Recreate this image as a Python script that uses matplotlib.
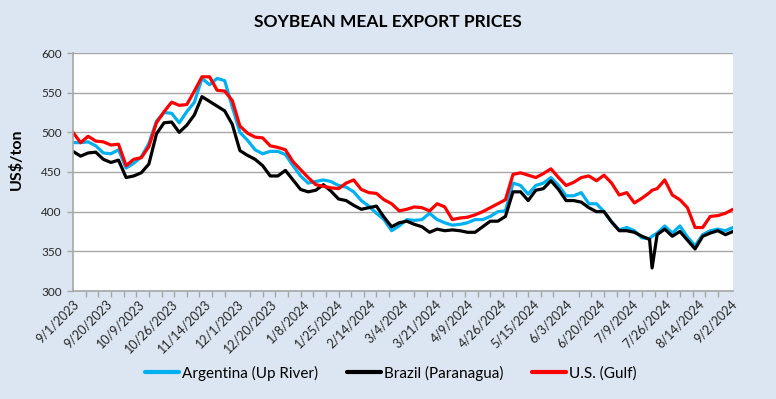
import matplotlib
matplotlib.use("Agg")
import matplotlib.pyplot as plt

# ---- data (trading-day index, values in US$/ton) ----
n_days = 262
tick_labels = ["9/1/2023", "9/20/2023", "10/9/2023", "10/26/2023", "11/14/2023",
               "12/1/2023", "12/20/2023", "1/8/2024", "1/25/2024", "2/14/2024",
               "3/4/2024", "3/21/2024", "4/9/2024", "4/26/2024", "5/15/2024",
               "6/3/2024", "6/20/2024", "7/9/2024", "7/26/2024", "8/14/2024",
               "9/2/2024"]
sample_days = [0, 3, 6, 9, 12, 15, 18, 21, 24, 27, 30, 33, 36, 39, 42, 45, 48, 51,
               54, 57, 60, 63, 66, 69, 72, 75, 78, 81, 84, 87, 90, 93, 96, 99, 102,
               105, 108, 111, 114, 117, 120, 123, 126, 129, 132, 135, 138, 141, 144,
               147, 150, 153, 156, 159, 162, 165, 168, 171, 174, 177, 180, 183, 186,
               189, 192, 195, 198, 201, 204, 207, 210, 213, 216, 219, 222, 225, 228,
               229, 231, 234, 237, 240, 243, 246, 249, 252, 255, 258, 261]
argentina = [487, 487, 488, 483, 474, 473, 478, 455, 461, 469, 486, 514, 525, 524,
             512, 526, 538, 568, 560, 568, 565, 532, 500, 490, 478, 473, 476, 476,
             472, 458, 445, 436, 438, 440, 438, 433, 431, 425, 414, 407, 398, 390,
             376, 382, 390, 389, 390, 398, 390, 386, 383, 384, 386, 390, 390, 394,
             400, 401, 436, 433, 422, 433, 436, 443, 433, 420, 420, 424, 410, 410,
             400, 387, 377, 380, 376, 367, 366, 369, 373, 382, 373, 382, 368, 357,
             371, 376, 378, 376, 380]
brazil = [476, 470, 474, 475, 466, 462, 465, 443, 445, 449, 460, 498, 512, 513,
          500, 509, 522, 545, 539, 533, 527, 510, 477, 471, 466, 458, 445, 445,
          452, 440, 428, 425, 427, 434, 426, 416, 414, 408, 403, 405, 407, 393,
          381, 386, 388, 384, 381, 374, 378, 376, 377, 376, 374, 374, 381, 388,
          388, 394, 425, 425, 414, 427, 429, 439, 428, 414, 414, 412, 405, 400,
          400, 387, 376, 376, 374, 369, 365, 329, 371, 378, 369, 375, 364, 353,
          369, 373, 376, 371, 375]
us_gulf = [500, 487, 495, 489, 488, 484, 485, 458, 466, 468, 482, 512, 526, 538,
           534, 535, 552, 570, 570, 553, 552, 540, 508, 499, 494, 493, 483, 481,
           478, 463, 453, 443, 434, 432, 430, 429, 436, 440, 428, 424, 423, 415,
           410, 401, 403, 406, 405, 401, 410, 406, 390, 392, 393, 396, 400, 405,
           410, 415, 447, 449, 446, 443, 448, 454, 443, 433, 437, 443, 445, 439,
           446, 436, 421, 424, 411, 417, 424, 427, 429, 440, 421, 415, 405, 380,
           380, 394, 395, 398, 403]

series_names = ["Argentina (Up River)", "Brazil (Paranagua)", "U.S. (Gulf)"]
series_colors = ["#00B0F0", "#000000", "#FF0000"]

# ---- figure ----
BG = "#DCE6F2"
fig = plt.figure(figsize=(7.76, 3.99), dpi=100, facecolor=BG)
ax = fig.add_axes([73/776, 1-291/399, (733-73)/776, (291-53)/399])
ax.set_facecolor("white")

for vals, name, col in zip([argentina, brazil, us_gulf], series_names, series_colors):
    ax.plot(sample_days, vals, color=col, lw=2.3, label=name,
            solid_joinstyle="round", solid_capstyle="round")

ax.set_xlim(0, n_days - 1)
ax.set_ylim(300, 600)
ax.set_yticks(range(300, 601, 50))
ax.grid(axis="y", color="#A6A6A6", lw=1.0)
ax.set_axisbelow(True)

major_pos = [13 * k for k in range(len(tick_labels))]
ax.set_xticks(major_pos)
ax.set_xticklabels(tick_labels, rotation=45, ha="right", va="top",
                   rotation_mode="anchor", fontsize=9, family="Lato", color="#262626")
ax.set_xticks(range(0, n_days, 5), minor=True)
ax.tick_params(axis="x", which="major", length=0, pad=5)
ax.tick_params(axis="x", which="minor", length=4, color="#A6A6A6", width=1)
ax.tick_params(axis="y", length=4, color="#A6A6A6", width=1, labelsize=8.5, pad=4,
               labelcolor="#262626")
for lab in ax.get_yticklabels():
    lab.set_family("Lato")

for s in ["top", "right"]:
    ax.spines[s].set_visible(False)
for s in ["left", "bottom"]:
    ax.spines[s].set_color("#A6A6A6")
    ax.spines[s].set_linewidth(1.2)

ax.set_ylabel("US$/ton", fontsize=11.5, fontweight="bold", family="Lato")
ax.yaxis.set_label_coords((24 - 73) / 660, (291 - 159) / 238)

fig.text(0.5, 1 - 22/399, "SOYBEAN MEAL EXPORT PRICES", ha="center", va="center",
         fontsize=12.5, fontweight="bold", family="Lato")

leg = fig.legend(loc="center", bbox_to_anchor=(0.504, 1 - 373/399), ncol=3,
                 frameon=False, prop={"family": "Lato", "size": 11},
                 handlelength=2.2, handletextpad=0.2, columnspacing=1.9)
for h in leg.get_lines():
    h.set_linewidth(3)

fig.savefig("out.png", dpi=100, facecolor=BG)
